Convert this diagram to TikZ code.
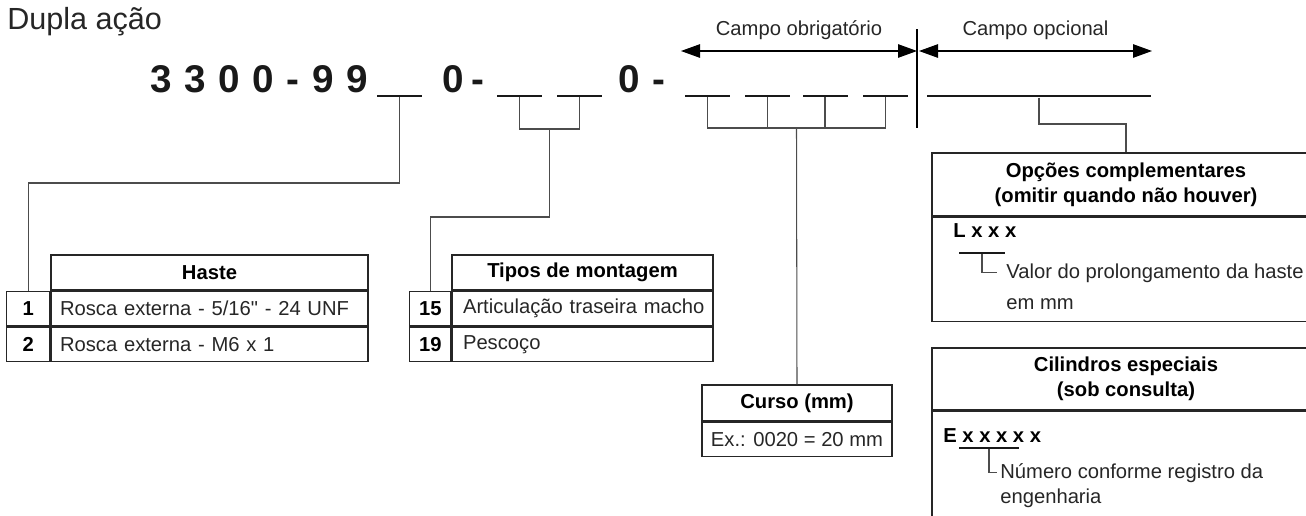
\documentclass[tikz,border=0pt]{standalone}
\usepackage{fontspec}
\setmainfont{Liberation Sans}
\newfontface\plainq{Liberation Sans}[Ligatures=ResetAll]
\usetikzlibrary{arrows.meta, positioning}
\newcommand\bodyfont{\fontsize{11.5}{14}\selectfont}
\tikzstyle{blank}=[fill=black!90,inner sep=0,minimum width=0.9cm,minimum height=0.042cm]
\tikzstyle{code}=[font=\fontsize{22}{26}\selectfont\bfseries,text=black!90,inner sep=0,anchor=base]
\tikzstyle{conn}=[draw=black!70,line width=0.6pt]
\tikzstyle{dimarrow}=[line width=0.6pt,{Triangle[length=0.38cm,width=0.27cm]}-{Triangle[length=0.38cm,width=0.27cm]}]
\tikzstyle{head}=[draw=black!85,line width=0.7pt,font=\bodyfont\bfseries,align=center,inner sep=0]
\tikzstyle{cell}=[draw=black!85,line width=0.7pt,minimum height=0.69cm,inner sep=0]
\tikzstyle{txt}=[font=\bodyfont,text=black!85,inner sep=0,anchor=base west]
\begin{document}
\begin{tikzpicture}[x=0.02cm,y=-0.02cm]
\useasboundingbox (0,0) rectangle (1306,515);
\clip (0,0) rectangle (1306,515);

\node[txt,font=\fontsize{17.4}{20}\selectfont] (title) at (7,29) {Dupla ação};

% code
\foreach \x/\c [count=\i] in {161/3,195/3,229/0,263/0,293/-,323/9,357/9,453/0,478/-,629/0,659/-}
	\node[code] (d\i) at (\x,92) {\c};
\node[blank] (b1) at (399.5,96) {};
\node[blank] (b2) at (519.5,96) {};
\node[blank] (b3) at (579.5,96) {};
\foreach \x [count=\i] in {707.5,767.5,825,885.5}
	\node[blank] (c\i) at (\x,96) {};
\node[blank,minimum width=4.48cm,minimum height=0.048cm] (opt) at (1039,96) {};

% fields
\coordinate (sepT) at (917,29);
\coordinate (sepB) at (917,128);
\draw[line width=0.6pt] (sepT) -- (sepB);
\coordinate (oa) at (681,51);
\coordinate (ob) at (917,51);
\coordinate (pa) at (919,51);
\coordinate (pb) at (1152,51);
\draw[dimarrow] (oa) -- (ob) node[midway,txt,anchor=base,yshift=0.32cm] (lobr) {Campo obrigatório};
\draw[dimarrow] (pa) -- (pb) node[midway,txt,anchor=base,yshift=0.32cm] (lopc) {Campo opcional};

% haste
\node[head,minimum width=6.34cm,minimum height=0.7cm] (haste) at (209.5,272.5) {Haste};
\node[cell,minimum width=0.86cm,font=\bodyfont\bfseries,anchor=north east] (n1) at (haste.south west) {1};
\node[cell,text width=5.98cm,inner xsep=0.18cm,align=left,anchor=north west,font=\bodyfont,text=black!85] (r1) at (haste.south west) {\mbox{Rosca externa - 5/16{\plainq"} - 24 UNF}};
\node[cell,minimum width=0.86cm,font=\bodyfont\bfseries,anchor=north] (n2) at (n1.south) {2};
\node[cell,text width=5.98cm,inner xsep=0.18cm,align=left,anchor=north,font=\bodyfont,text=black!85] (r2) at (r1.south) {\mbox{Rosca externa - M6 x 1}};

% montagem
\node[head,minimum width=5.22cm,minimum height=0.7cm] (tipos) at (582.5,272.5) {Tipos de montagem};
\node[cell,minimum width=0.82cm,font=\bodyfont\bfseries,anchor=north east] (n15) at (tipos.south west) {15};
\node[cell,text width=4.78cm,inner xsep=0.22cm,align=left,anchor=north west,font=\bodyfont,text=black!85] (r15) at (tipos.south west) {\mbox{Articulação traseira macho}};
\node[cell,minimum width=0.82cm,font=\bodyfont\bfseries,anchor=north] (n19) at (n15.south) {19};
\node[cell,text width=4.78cm,inner xsep=0.22cm,align=left,anchor=north,font=\bodyfont,text=black!85] (r19) at (r15.south) {\mbox{Pescoço}};

% curso
\node[head,minimum width=3.8cm,minimum height=0.72cm] (curso) at (797,403) {Curso (mm)};
\node[cell,minimum width=3.8cm,minimum height=0.68cm,anchor=north,font=\bodyfont,text=black!85] (ex) at (curso.south) {Ex.: 0020 = 20 mm};

% opcoes
\node[head,minimum width=7.76cm,minimum height=1.26cm] (opc) at (1126,184.5) {Opções complementares\\(omitir quando não houver)};
\node[cell,minimum width=7.76cm,minimum height=2.08cm,anchor=north] (opcb) at (opc.south) {};
\node[txt,font=\bodyfont\bfseries,text=black] (lx) at (953,237) {L x x x};
\node[blank,minimum width=0.92cm] (ul1) at (982,253) {};
\node[txt] (val1) at (1006,278) {Valor do prolongamento da haste};
\node[txt] (val2) at (1006,309) {em mm};
\draw[conn] (ul1.south) |- ([xshift=-0.18cm]val1.west);

% especiais
\node[head,minimum width=7.76cm,minimum height=1.24cm] (esp) at (1126,379) {Cilindros especiais\\(sob consulta)};
\node[cell,minimum width=7.76cm,minimum height=2.6cm,anchor=north] (espb) at (esp.south) {};
\node[txt,font=\bodyfont\bfseries,text=black] (ex5) at (943,442) {E x x x x x};
\node[blank,minimum width=1.2cm] (ul2) at (989,448) {};
\node[txt] (num1) at (1000,478) {Número conforme registro da};
\node[txt] (num2) at (1000,503) {engenharia};
\draw[conn] (ul2.south) |- ([xshift=-0.06cm]num1.west);

% connectors
\draw[conn] (b1.south) -- (b1.south |- 0,183) -| (n1.north);
\coordinate (tj) at (549.5,129);
\draw[conn] (b2.south) |- (tj) -| (b3.south);
\draw[conn] (tj) -- (tj |- 0,217) -| (n15.north);
\coordinate (cj) at (796.5,128);
\draw[conn] (c1.south) |- (cj) -| (c4.south);
\foreach \i in {2,3}
	\draw[conn] (c\i.south) -- (c\i.south |- cj);
\draw[conn] (cj) -- (curso.north);
\draw[conn] (opt.south) -- (opt.south |- 0,124) -| (opc.north);
\end{tikzpicture}
\end{document}
